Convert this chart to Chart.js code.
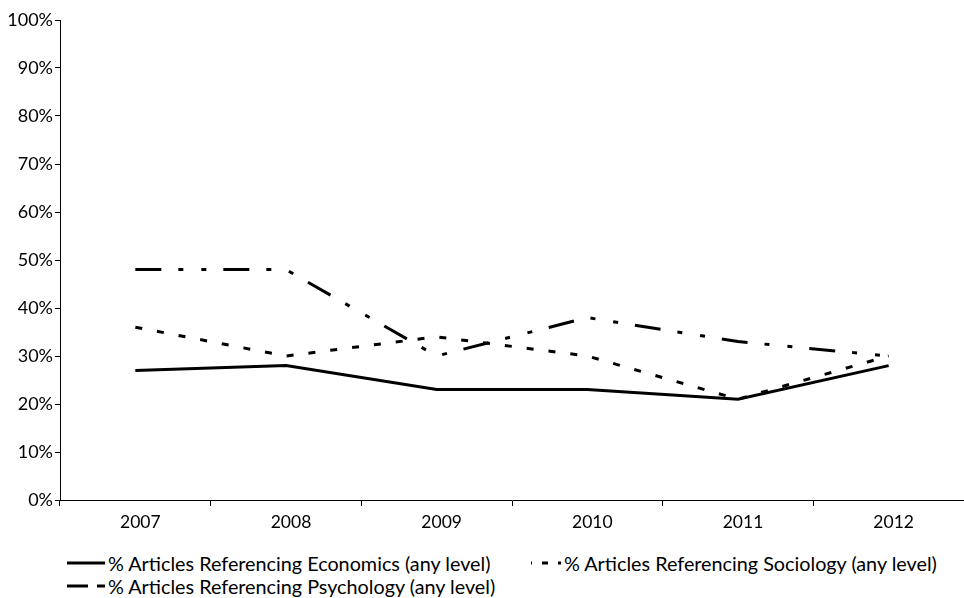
<!DOCTYPE html>
<html>
<head>
<meta charset="utf-8">
<script src="https://cdn.jsdelivr.net/npm/chart.js@4"></script>
<style>
  body { margin: 0; background: #fff; }
  #wrap { position: relative; width: 964px; height: 598px; font-family: Lato, sans-serif; color: #000; }
  #chartBox { position: absolute; left: 0; top: 0; width: 964px; height: 540px; }
  .leg { position: absolute; font-size: 19.8px; line-height: 22px; white-space: nowrap; }
  .leg svg { position: absolute; top: 0; }
</style>
</head>
<body>
<div id="wrap">
  <div id="chartBox"><canvas id="chartRef"></canvas></div>
  <div id="legend"></div>
</div>
<script>
// Data
const tahun = ['2007', '2008', '2009', '2010', '2011', '2012'];
const economics = [27, 28, 23, 23, 21, 28];
const sociology = [36, 30, 34, 30, 21, 30];
const psychology = [48, 48, 30, 38, 33, 30];

const labelEconomics = '% Articles Referencing Economics (any level)';
const labelSociology = '% Articles Referencing Sociology (any level)';
const labelPsychology = '% Articles Referencing Psychology (any level)';

const dashSociology = [7, 15];
const dashPsychology = [26, 17, 5, 18, 5, 17];

const ctx = document.getElementById('chartRef').getContext('2d');

const chart = new Chart(ctx, {
  type: 'line',
  data: {
    labels: tahun,
    datasets: [
      {
        label: labelEconomics,
        data: economics,
        borderColor: '#000',
        borderWidth: 3,
        pointRadius: 0,
        tension: 0
      },
      {
        label: labelSociology,
        data: sociology,
        borderColor: '#000',
        borderWidth: 3,
        borderDash: dashSociology,
        pointRadius: 0,
        tension: 0
      },
      {
        label: labelPsychology,
        data: psychology,
        borderColor: '#000',
        borderWidth: 3,
        borderDash: dashPsychology,
        pointRadius: 0,
        tension: 0
      }
    ]
  },
  options: {
    responsive: true,
    maintainAspectRatio: false,
    animation: false,
    layout: { padding: { top: 20, right: 0, left: 0, bottom: 0 } },
    plugins: {
      legend: { display: false },
      tooltip: { enabled: false }
    },
    scales: {
      x: {
        offset: true,
        grid: { offset: true, drawOnChartArea: false, color: '#000', tickLength: 6 },
        border: { color: '#000', width: 1 },
        ticks: { color: '#000', font: { family: 'Lato', size: 17.5 }, padding: 6, labelOffset: 5, maxRotation: 0 },
        afterFit: s => { s.height = 40; }
      },
      y: {
        min: 0,
        max: 100,
        grid: { drawOnChartArea: false, color: '#000', tickLength: 5 },
        border: { color: '#000', width: 1 },
        ticks: {
          stepSize: 10,
          color: '#000',
          font: { family: 'Lato', size: 18 },
          padding: 2,
          callback: v => v + '%'
        },
        afterFit: s => { s.width = 60; }
      }
    }
  }
});

// Legenda (2 kolom seperti aslinya)
const legendItems = [
  { text: labelEconomics, x: 67, y: 552, x1: 0, dash: null },
  { text: labelSociology, x: 523, y: 552, x1: 8, dash: '6 10', offset: 5 },
  { text: labelPsychology, x: 67, y: 575, x1: 0, dash: '21 9 8 100' }
];

const legendEl = document.getElementById('legend');
legendItems.forEach(item => {
  const div = document.createElement('div');
  div.className = 'leg';
  div.style.left = item.x + 'px';
  div.style.top = item.y + 'px';
  div.style.paddingLeft = '41px';
  const dashAttr = item.dash ? `stroke-dasharray="${item.dash}" stroke-dashoffset="${item.offset || 0}"` : '';
  div.innerHTML = `<svg width="38" height="22" style="left:0"><line x1="${item.x1}" y1="11" x2="38" y2="11" stroke="#000" stroke-width="3" ${dashAttr}/></svg>` +
    `<span>${item.text}</span>`;
  legendEl.appendChild(div);
});
</script>
</body>
</html>
